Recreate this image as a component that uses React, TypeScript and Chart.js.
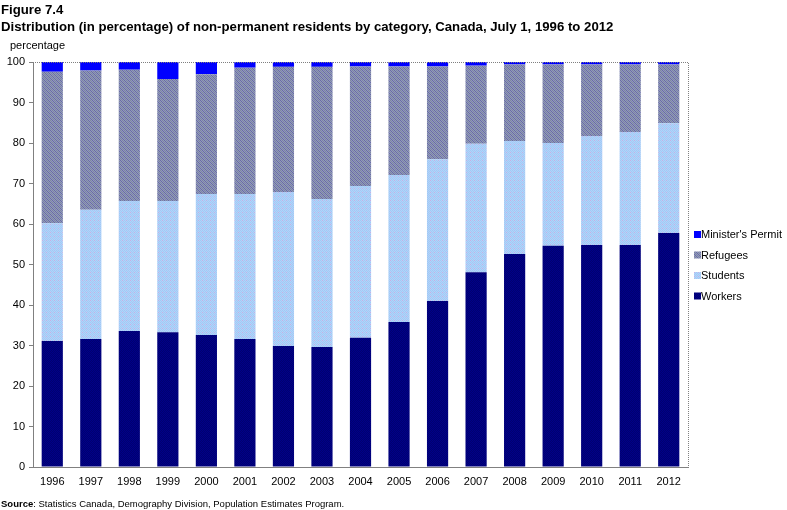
import { useEffect, useRef } from "react";
import { Chart, registerables } from "chart.js";

Chart.register(...registerables);

const years = ["1996", "1997", "1998", "1999", "2000", "2001", "2002", "2003", "2004", "2005", "2006", "2007", "2008", "2009", "2010", "2011", "2012"];
const workers = [31.1, 31.6, 33.6, 33.3, 32.6, 31.6, 29.9, 29.6, 31.9, 35.8, 41.0, 48.1, 52.6, 54.6, 54.8, 54.8, 57.8];
const students = [29.1, 31.9, 32.1, 32.4, 34.8, 35.8, 38.0, 36.6, 37.5, 36.3, 35.0, 31.7, 27.9, 25.4, 26.9, 27.9, 27.1];
const refugees = [37.4, 34.4, 32.4, 30.1, 29.6, 31.2, 30.9, 32.6, 29.5, 26.8, 22.9, 19.3, 18.9, 19.4, 17.7, 16.7, 14.5];
const ministersPermit = [2.4, 2.1, 1.9, 4.2, 3.0, 1.4, 1.2, 1.2, 1.1, 1.1, 1.1, 0.9, 0.6, 0.6, 0.6, 0.6, 0.6];
const yTicks = [0, 10, 20, 30, 40, 50, 60, 70, 80, 90, 100];

const FONT = "Arial, 'Liberation Sans', sans-serif";

// Small dithered fill, like the hatched fills of the original spreadsheet chart
function makePattern(cells: string[][]): CanvasPattern | string {
  const size = cells.length;
  const c = document.createElement("canvas");
  c.width = size;
  c.height = size;
  const g = c.getContext("2d")!;
  for (let y = 0; y < size; y++) {
    for (let x = 0; x < size; x++) {
      g.fillStyle = cells[y][x];
      g.fillRect(x, y, 1, 1);
    }
  }
  return g.createPattern(c, "repeat") || cells[0][0];
}

export default function App() {
  const ref = useRef<HTMLCanvasElement | null>(null);

  useEffect(() => {
    if (!ref.current) return;
    const a = "#6a70a0", b = "#9094c0", c = "#7c8a9c";
    const refugeesFill = makePattern([
      [a, b, c, b],
      [b, a, b, c],
      [c, b, a, b],
      [b, c, b, a],
    ]);
    const s1 = "#a4c8f4", s2 = "#c4b0e4", s3 = "#b0d4fa";
    const studentsFill = makePattern([
      [s1, s3, s2, s3],
      [s3, s1, s3, s1],
      [s1, s3, s1, s3],
      [s3, s1, s3, s1],
    ]);
    const w1 = "#000088", w2 = "#000070";
    const workersFill = makePattern([
      [w1, w2],
      [w2, w1],
    ]);

    const overlay = {
      id: "overlay",
      afterDraw(chart: any) {
        const ctx = chart.ctx;
        const area = chart.chartArea;
        ctx.save();
        // dotted frame on top and right
        ctx.strokeStyle = "#808080";
        ctx.lineWidth = 1;
        ctx.setLineDash([1, 1]);
        ctx.beginPath();
        ctx.moveTo(area.left, area.top + 0.5);
        ctx.lineTo(area.right + 0.5, area.top + 0.5);
        ctx.lineTo(area.right + 0.5, area.bottom);
        ctx.stroke();
        ctx.setLineDash([]);

        // titles
        ctx.fillStyle = "#000";
        ctx.textBaseline = "alphabetic";
        ctx.textAlign = "left";
        ctx.font = `bold 13.2px ${FONT}`;
        ctx.fillText("Figure 7.4", 1, 14);
        ctx.fillText("Distribution (in percentage) of non-permanent residents by category, Canada, July 1, 1996 to 2012", 1, 31);
        ctx.font = `11px ${FONT}`;
        ctx.fillText("percentage", 10, 49);

        // source
        ctx.font = `bold 9.5px ${FONT}`;
        ctx.fillText("Source", 1, 507);
        const w = ctx.measureText("Source").width;
        ctx.font = `9.5px ${FONT}`;
        ctx.fillText(": Statistics Canada, Demography Division, Population Estimates Program.", 1 + w, 507);

        // legend, top to bottom in reverse stacking order
        const ds = chart.data.datasets;
        ctx.font = `11px ${FONT}`;
        ctx.textBaseline = "middle";
        for (let i = 0; i < ds.length; i++) {
          const d = ds[ds.length - 1 - i];
          const y = 234 + i * 20.5;
          ctx.fillStyle = d.backgroundColor;
          ctx.fillRect(694, y - 3, 7, 7);
          ctx.fillStyle = "#000";
          ctx.fillText(d.label, 701, y + 1);
        }
        ctx.restore();
      },
    };

    const chart = new Chart(ref.current, {
      type: "bar",
      data: {
        labels: years,
        datasets: [
          { label: "Workers", data: workers, backgroundColor: workersFill as any },
          { label: "Students", data: students, backgroundColor: studentsFill as any },
          { label: "Refugees", data: refugees, backgroundColor: refugeesFill as any },
          { label: "Minister's Permit", data: ministersPermit, backgroundColor: "#0000ff" },
        ],
      },
      options: {
        responsive: false,
        animation: false,
        devicePixelRatio: 1,
        layout: { padding: { top: 62, right: 99, bottom: 0, left: 0 } },
        datasets: { bar: { categoryPercentage: 1, barPercentage: 0.55, borderWidth: 0 } },
        plugins: {
          legend: { display: false },
          tooltip: { enabled: false },
          title: { display: false },
        },
        scales: {
          x: {
            stacked: true,
            afterFit: (s: any) => { s.height = 43; },
            grid: { display: true, drawOnChartArea: false, drawTicks: false, color: "#808080" },
            border: { display: true, color: "#808080" },
            ticks: { color: "#000", font: { family: FONT, size: 11 }, padding: 8, maxRotation: 0, autoSkip: false },
          },
          y: {
            stacked: true,
            min: 0,
            max: 100,
            afterFit: (s: any) => { s.width = 33; },
            afterBuildTicks: (s: any) => { s.ticks = yTicks.map((v) => ({ value: v })); },
            grid: { display: true, drawOnChartArea: false, drawTicks: true, tickLength: 4, color: "#808080" },
            border: { display: true, color: "#808080" },
            ticks: { color: "#000", font: { family: FONT, size: 11 }, padding: 4 },
          },
        },
      },
      plugins: [overlay],
    });
    return () => chart.destroy();
  }, []);

  return (
    <div style={{ position: "fixed", left: 0, top: 0, width: 787, height: 510, background: "#fff" }}>
      <canvas ref={ref} width={787} height={510} style={{ display: "block" }} />
    </div>
  );
}
